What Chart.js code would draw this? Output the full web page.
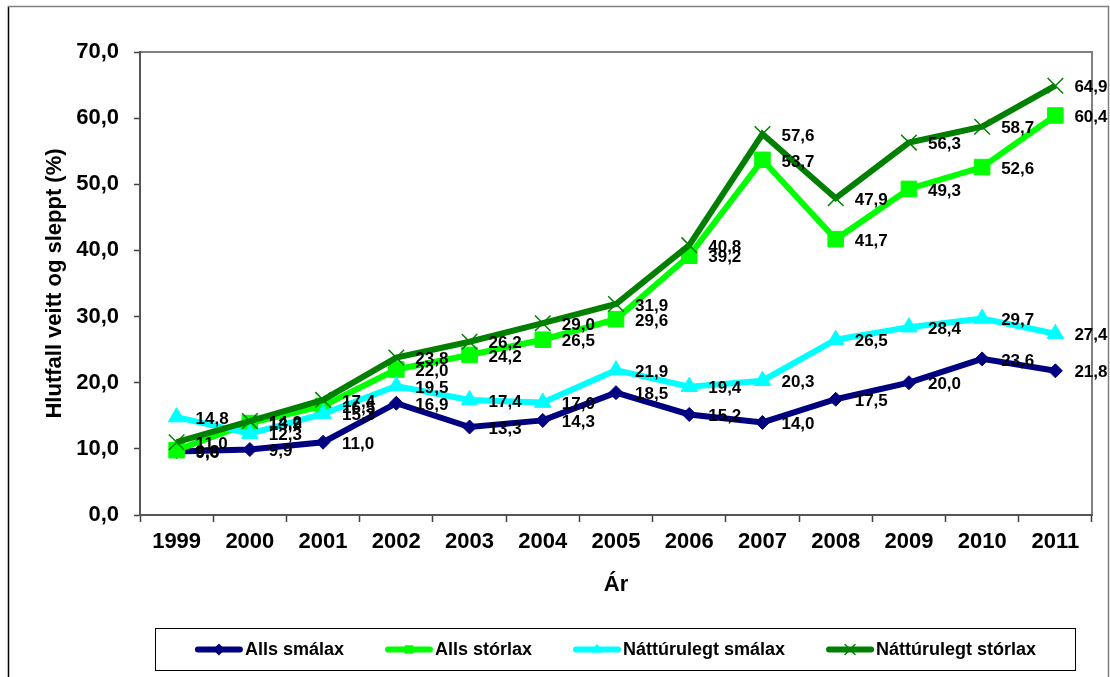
<!DOCTYPE html>
<html><head><meta charset="utf-8">
<script src="https://cdn.jsdelivr.net/npm/chart.js@4/dist/chart.umd.min.js"></script>
<style>html,body{margin:0;padding:0;background:#fff;overflow:hidden}</style>
</head><body>
<canvas id="c" width="1110" height="677"></canvas>
<script>
const years = ['1999','2000','2001','2002','2003','2004','2005','2006','2007','2008','2009','2010','2011'];
const allsSmalax  = [9.6, 9.9, 11.0, 16.9, 13.3, 14.3, 18.5, 15.2, 14.0, 17.5, 20.0, 23.6, 21.8];
const allsStorlax = [9.8, 13.9, 16.5, 22.0, 24.2, 26.5, 29.6, 39.2, 53.7, 41.7, 49.3, 52.6, 60.4];
const nattSmalax  = [14.8, 12.3, 15.3, 19.5, 17.4, 17.0, 21.9, 19.4, 20.3, 26.5, 28.4, 29.7, 27.4];
const nattStorlax = [11.0, 14.2, 17.4, 23.8, 26.2, 29.0, 31.9, 40.8, 57.6, 47.9, 56.3, 58.7, 64.9];
const yMin = 0, yMax = 70, yStep = 10;
const seriesNames = ['Alls smálax', 'Alls stórlax', 'Náttúrulegt smálax', 'Náttúrulegt stórlax'];
const yTitle = 'Hlutfall veitt og sleppt (%)';
const xTitle = 'Ár';

const FONT = "'Liberation Sans', Arial, sans-serif";
const fmt = v => v.toFixed(1).replace('.', ',');

const styles = [
  {color:'#000080', pointStyle:'rectRot', radius:7, pbw:1},
  {color:'#00FF00', pointStyle:'rect', radius:11, pbw:1},
  {color:'#00FFFF', pointStyle:'triangle', radius:9.5, pbw:1},
  {color:'#008000', pointStyle:'crossRot', radius:11, pbw:1.5}
];
const seriesData = [allsSmalax, allsStorlax, nattSmalax, nattStorlax];

const datasets = seriesData.map((d, i) => ({
  label: seriesNames[i],
  data: d,
  borderColor: styles[i].color,
  backgroundColor: styles[i].color,
  pointBackgroundColor: styles[i].color,
  pointBorderColor: styles[i].color,
  pointBorderWidth: styles[i].pbw,
  pointStyle: styles[i].pointStyle,
  pointRadius: styles[i].radius,
  pointHoverRadius: styles[i].radius,
  borderWidth: 6,
  tension: 0,
  fill: false,
  order: 4 - i
}));

function drawMarker(ctx, style, x, y, r, color, lw) {
  ctx.save();
  ctx.fillStyle = color; ctx.strokeStyle = color; ctx.lineWidth = lw;
  ctx.beginPath();
  if (style === 'rectRot') {
    ctx.moveTo(x, y - r); ctx.lineTo(x + r, y); ctx.lineTo(x, y + r); ctx.lineTo(x - r, y); ctx.closePath(); ctx.fill();
  } else if (style === 'rect') {
    const s = r * Math.SQRT1_2; ctx.rect(x - s, y - s, 2 * s, 2 * s); ctx.fill();
  } else if (style === 'triangle') {
    for (let k = 0; k < 3; k++) {
      const a = k * 2 * Math.PI / 3;
      const px = x + Math.sin(a) * r, py = y - Math.cos(a) * r;
      if (k === 0) ctx.moveTo(px, py); else ctx.lineTo(px, py);
    }
    ctx.closePath(); ctx.fill();
  } else if (style === 'crossRot') {
    const s = r * Math.SQRT1_2;
    ctx.moveTo(x - s, y - s); ctx.lineTo(x + s, y + s);
    ctx.moveTo(x + s, y - s); ctx.lineTo(x - s, y + s);
    ctx.stroke();
  }
  ctx.restore();
}

const deco = {
  id: 'deco',
  beforeDraw(chart) {
    const ctx = chart.ctx;
    ctx.save(); ctx.fillStyle = '#fff'; ctx.fillRect(0, 0, chart.width, chart.height); ctx.restore();
    const a = chart.chartArea;
    ctx.save();
    ctx.strokeStyle = '#808080'; ctx.lineWidth = 2;
    ctx.beginPath();
    ctx.moveTo(a.left, a.top); ctx.lineTo(a.right, a.top); ctx.lineTo(a.right, a.bottom);
    ctx.stroke();
    ctx.restore();
  },
  afterDatasetsDraw(chart) {
    const ctx = chart.ctx;
    ctx.save();
    ctx.font = 'bold 17px ' + FONT;
    ctx.fillStyle = '#000';
    ctx.textAlign = 'left';
    ctx.textBaseline = 'middle';
    chart.data.datasets.forEach((ds, i) => {
      const meta = chart.getDatasetMeta(i);
      meta.data.forEach((pt, j) => {
        ctx.fillText(fmt(ds.data[j]), pt.x + 19, pt.y + 2);
      });
    });
    ctx.restore();
  },
  afterDraw(chart) {
    const ctx = chart.ctx;
    ctx.save();
    // outer frame
    ctx.lineWidth = 1.5;
    ctx.strokeStyle = '#000';
    ctx.beginPath(); ctx.moveTo(8.5, 6); ctx.lineTo(8.5, 677); ctx.stroke();
    ctx.strokeStyle = '#808080';
    ctx.beginPath(); ctx.moveTo(8, 6.5); ctx.lineTo(1108.5, 6.5); ctx.lineTo(1108.5, 677); ctx.stroke();
    // legend box
    const bx = 155.5, by = 628.5, bw = 920, bh = 42;
    ctx.lineWidth = 1;
    ctx.strokeStyle = '#000';
    ctx.strokeRect(bx, by, bw, bh);
    ctx.font = 'bold 18px ' + FONT;
    const lineW = 48, g1 = 2, g2 = 41;
    const widths = seriesNames.map(n => ctx.measureText(n).width);
    const total = widths.reduce((s, w) => s + lineW + g1 + w, 0) + g2 * (seriesNames.length - 1);
    let x = bx + bw / 2 - total / 2;
    const cy = by + bh / 2;
    ctx.textAlign = 'left'; ctx.textBaseline = 'middle'; ctx.fillStyle = '#000';
    seriesNames.forEach((n, i) => {
      const st = styles[i];
      ctx.strokeStyle = st.color; ctx.lineWidth = 6; ctx.lineCap = 'round';
      ctx.beginPath(); ctx.moveTo(x + 3, cy); ctx.lineTo(x + lineW - 3, cy); ctx.stroke();
      drawMarker(ctx, st.pointStyle, x + lineW / 2, cy, st.pointStyle === 'crossRot' ? 7 : 6, st.color, st.pbw);
      ctx.fillStyle = '#000';
      ctx.fillText(n, x + lineW + g1, cy + 1);
      x += lineW + g1 + widths[i] + g2;
    });
    ctx.restore();
  }
};

new Chart(document.getElementById('c'), {
  type: 'line',
  data: { labels: years, datasets },
  options: {
    responsive: false,
    animation: false,
    devicePixelRatio: 1,
    layout: { padding: { left: 0, top: 52, right: 18, bottom: 77 } },
    plugins: { legend: { display: false }, tooltip: { enabled: false } },
    scales: {
      x: {
        type: 'category',
        offset: true,
        grid: { offset: true, drawOnChartArea: false, drawTicks: true, tickLength: 7, color: '#404040', tickWidth: 1.5 },
        border: { display: true, color: '#555', width: 2 },
        ticks: { color: '#000', font: { family: FONT, size: 22, weight: 'bold' }, padding: 7, maxRotation: 0, autoSkip: false },
        title: { display: true, text: xTitle, color: '#000', font: { family: FONT, size: 22, weight: 'bold' }, padding: { top: 0, bottom: 2 } },
        afterFit(scale) { scale.height = 85; }
      },
      y: {
        min: yMin, max: yMax,
        grid: { drawOnChartArea: false, drawTicks: true, tickLength: 6, color: '#404040', tickWidth: 1.5 },
        border: { display: true, color: '#555', width: 2 },
        ticks: { stepSize: yStep, color: '#000', font: { family: FONT, size: 22, weight: 'bold' }, padding: 15, callback: v => fmt(v) },
        title: { display: true, text: yTitle, color: '#000', font: { family: FONT, size: 22, weight: 'bold' }, padding: { top: 42, bottom: 0 } },
        afterFit(scale) { scale.width = 140; }
      }
    }
  },
  plugins: [deco]
});
</script>
</body></html>
